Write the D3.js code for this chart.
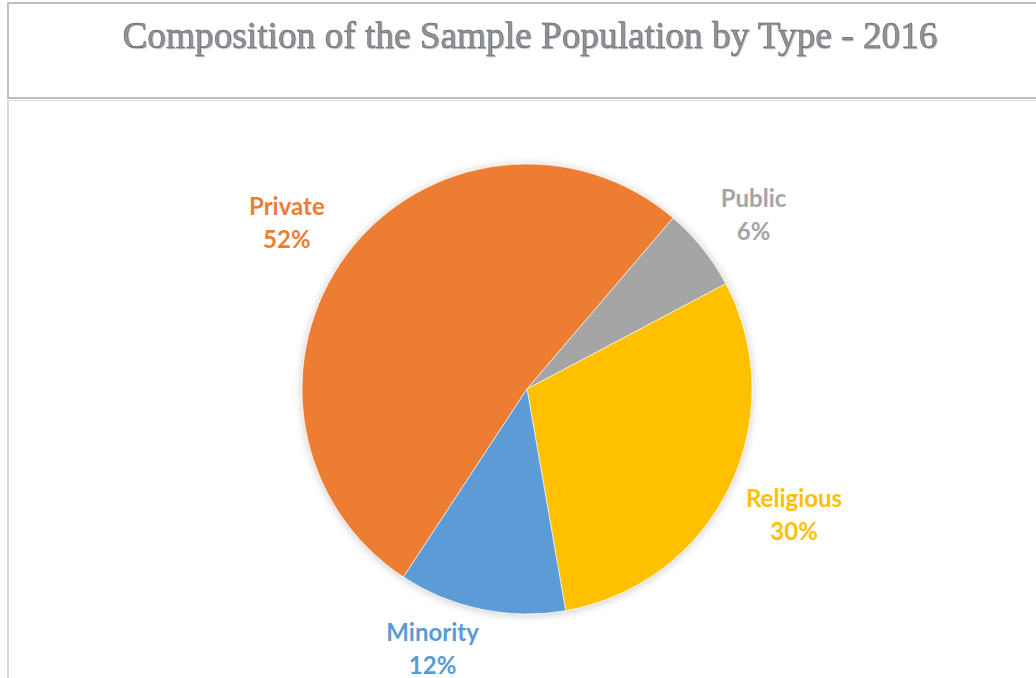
<!DOCTYPE html>
<html>
<head>
<meta charset="utf-8">
<script src="https://cdn.jsdelivr.net/npm/d3@7"></script>
<style>
  html, body { margin: 0; padding: 0; background: #fff; }
  svg { display: block; }
</style>
</head>
<body>
<svg id="chart" width="1036" height="678"></svg>
<script>
// Sample population composition, 2016
const categories = ["Private", "Public", "Religious", "Minority"];
const shares = [52, 6, 30, 12];
const colors = ["#ED7D31", "#A5A5A5", "#FFC000", "#5B9BD5"];
const titleText = "Composition of the Sample Population by Type - 2016";

// Label placement tweaks around the pie: [angle nudge in degrees, distance from centre]
const labelPlacement = [[-4, 286], [3, 279], [1, 300], [7.5, 287]];

const W = 1036, H = 678;
const svg = d3.select("#chart");

// Frames: title box and plot box
svg.append("rect")
  .attr("x", 8).attr("y", 3)
  .attr("width", W + 10).attr("height", 95)
  .attr("fill", "none").attr("stroke", "#bfbfbf").attr("stroke-width", 2);
svg.append("line")
  .attr("x1", 8).attr("x2", W + 10).attr("y1", 100.5).attr("y2", 100.5)
  .attr("stroke", "#dcdcdc").attr("stroke-width", 1);
svg.append("line")
  .attr("x1", 8).attr("x2", 8).attr("y1", 100).attr("y2", H + 5)
  .attr("stroke", "#d9d9d9").attr("stroke-width", 2);

// Title
const defs = svg.append("defs");
const ts = defs.append("filter").attr("id", "titleShadow")
  .attr("x", "-5%").attr("y", "-30%").attr("width", "110%").attr("height", "160%");
ts.append("feDropShadow").attr("dx", 1).attr("dy", 1).attr("stdDeviation", 0.6)
  .attr("flood-color", "#000").attr("flood-opacity", 0.2);

svg.append("text")
  .attr("x", 530).attr("y", 48)
  .attr("text-anchor", "middle")
  .attr("font-family", "'Liberation Serif', 'Times New Roman', serif")
  .attr("font-size", 38)
  .attr("textLength", 815)
  .attr("lengthAdjust", "spacingAndGlyphs")
  .attr("fill", "#939393")
  .attr("stroke", "#4a5566")
  .attr("stroke-width", 0.45)
  .attr("filter", "url(#titleShadow)")
  .text(titleText);

// Pie
const cx = 527, cy = 389, R = 225;
const startDeg = 40.5 - shares[0] / 100 * 360;
const start = startDeg * Math.PI / 180;

const pie = d3.pie().sort(null).value(d => d)
  .startAngle(start).endAngle(start + 2 * Math.PI);
const arcs = pie(shares);
const arc = d3.arc().innerRadius(0).outerRadius(R);

const sh = defs.append("filter").attr("id", "pieShadow")
  .attr("x", "-10%").attr("y", "-10%").attr("width", "120%").attr("height", "120%");
sh.append("feDropShadow").attr("dx", 0).attr("dy", 1).attr("stdDeviation", 4)
  .attr("flood-color", "#000").attr("flood-opacity", 0.22);

const g = svg.append("g").attr("transform", `translate(${cx},${cy})`);
g.append("g").attr("filter", "url(#pieShadow)")
  .selectAll("path")
  .data(arcs)
  .join("path")
  .attr("d", arc)
  .attr("fill", (d, i) => colors[i])
  .attr("stroke", "#ffffff")
  .attr("stroke-width", 0.6);

// Data labels: category name over percentage
const labels = g.selectAll("g.label")
  .data(arcs)
  .join("g")
  .attr("class", "label")
  .attr("transform", (d, i) => {
    const mid = (d.startAngle + d.endAngle) / 2 + labelPlacement[i][0] * Math.PI / 180;
    const r = labelPlacement[i][1];
    return `translate(${r * Math.sin(mid)},${-r * Math.cos(mid)})`;
  });

labels.append("text")
  .attr("text-anchor", "middle")
  .attr("y", -19)
  .attr("font-family", "Lato, 'Open Sans', sans-serif")
  .attr("font-weight", "bold")
  .attr("font-size", 24)
  .attr("fill", (d, i) => colors[i])
  .text((d, i) => categories[i]);

labels.append("text")
  .attr("text-anchor", "middle")
  .attr("y", 14)
  .attr("font-family", "Lato, 'Open Sans', sans-serif")
  .attr("font-weight", "bold")
  .attr("font-size", 24)
  .attr("fill", (d, i) => colors[i])
  .text(d => d.data + "%");
</script>
</body>
</html>
